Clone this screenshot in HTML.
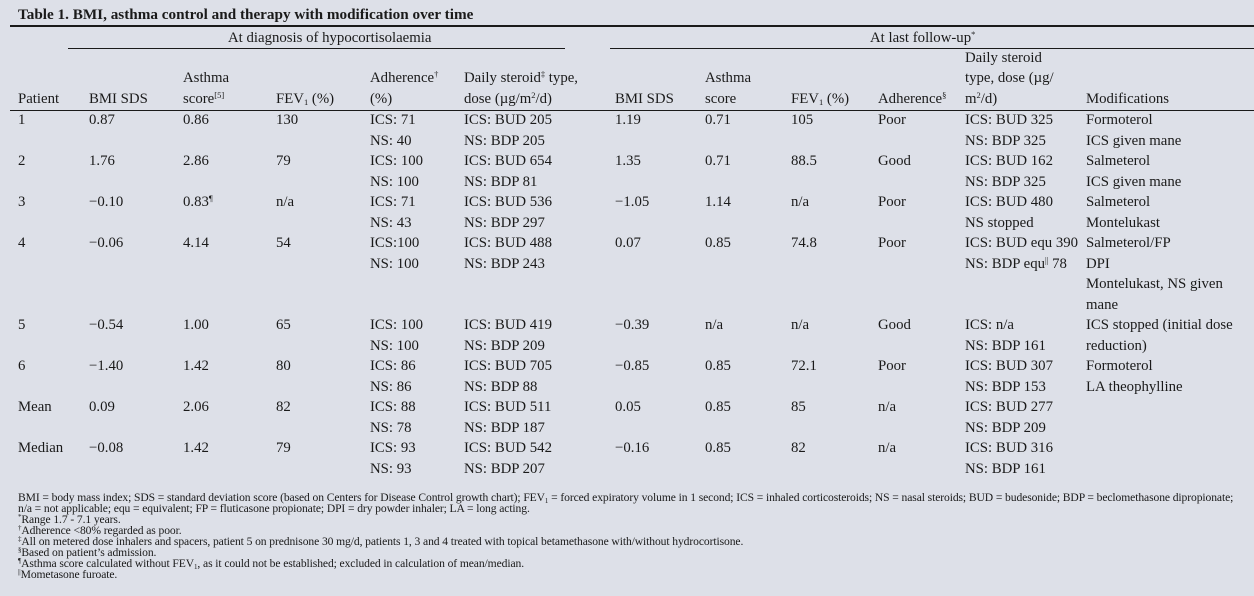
<!DOCTYPE html>
<html><head><meta charset="utf-8"><style>
body{margin:0;width:1254px;height:596px;background:#dde0e8;font-family:"Liberation Serif",serif;color:#1a1a1a;position:relative;overflow:hidden}
.t{position:absolute;font-size:14.8px;line-height:20px;white-space:nowrap}
.l{position:absolute;background:#1a1a1a}
sup{font-size:8.5px;vertical-align:5px;line-height:0}
sub{font-size:8.5px;vertical-align:-2px;line-height:0}
.f{position:absolute;left:18px;font-size:11.6px;line-height:11px;white-space:nowrap;letter-spacing:-0.1px}
.f sup{font-size:7px;vertical-align:4px}
.f sub{font-size:7px}
</style></head><body>
<div class="t" style="left:18px;top:5px;font-weight:bold;font-size:15.2px">Table 1. BMI, asthma control and therapy with modification over time</div>
<div class="l" style="left:10px;top:25px;width:1244px;height:2px"></div>
<div class="t" style="left:228px;top:28px">At diagnosis of hypocortisolaemia</div>
<div class="t" style="left:870px;top:28px">At last follow-up<sup>*</sup></div>
<div class="l" style="left:68px;top:48px;width:497px;height:1px"></div>
<div class="l" style="left:610px;top:48px;width:644px;height:1px"></div>
<div class="t" style="left:183px;top:68px">Asthma</div>
<div class="t" style="left:705px;top:68px">Asthma</div>
<div class="t" style="left:370px;top:68px">Adherence<sup>†</sup></div>
<div class="t" style="left:464px;top:68px">Daily steroid<sup>‡</sup> type,</div>
<div class="t" style="left:965px;top:48px">Daily steroid</div>
<div class="t" style="left:965px;top:68px">type, dose (µg/</div>
<div class="t" style="left:18px;top:89px">Patient</div>
<div class="t" style="left:89px;top:89px">BMI SDS</div>
<div class="t" style="left:183px;top:89px">score<sup>[5]</sup></div>
<div class="t" style="left:276px;top:89px">FEV<sub>1</sub> (%)</div>
<div class="t" style="left:370px;top:89px">(%)</div>
<div class="t" style="left:464px;top:89px">dose (µg/m<sup>2</sup>/d)</div>
<div class="t" style="left:615px;top:89px">BMI SDS</div>
<div class="t" style="left:705px;top:89px">score</div>
<div class="t" style="left:791px;top:89px">FEV<sub>1</sub> (%)</div>
<div class="t" style="left:878px;top:89px">Adherence<sup>§</sup></div>
<div class="t" style="left:965px;top:89px">m<sup>2</sup>/d)</div>
<div class="t" style="left:1086px;top:89px">Modifications</div>
<div class="l" style="left:10px;top:110px;width:1244px;height:1px"></div>

<div class="t" style="left:18px;top:110px;line-height:20.5px">1<br><br>2<br><br>3<br><br>4<br><br><br><br>5<br><br>6<br><br>Mean<br><br>Median</div>
<div class="t" style="left:89px;top:110px;line-height:20.5px">0.87<br><br>1.76<br><br>−0.10<br><br>−0.06<br><br><br><br>−0.54<br><br>−1.40<br><br>0.09<br><br>−0.08</div>
<div class="t" style="left:183px;top:110px;line-height:20.5px">0.86<br><br>2.86<br><br>0.83<sup>¶</sup><br><br>4.14<br><br><br><br>1.00<br><br>1.42<br><br>2.06<br><br>1.42</div>
<div class="t" style="left:276px;top:110px;line-height:20.5px">130<br><br>79<br><br>n/a<br><br>54<br><br><br><br>65<br><br>80<br><br>82<br><br>79</div>
<div class="t" style="left:370px;top:110px;line-height:20.5px">ICS: 71<br>NS: 40<br>ICS: 100<br>NS: 100<br>ICS: 71<br>NS: 43<br>ICS:100<br>NS: 100<br><br><br>ICS: 100<br>NS: 100<br>ICS: 86<br>NS: 86<br>ICS: 88<br>NS: 78<br>ICS: 93<br>NS: 93</div>
<div class="t" style="left:464px;top:110px;line-height:20.5px">ICS: BUD 205<br>NS: BDP 205<br>ICS: BUD 654<br>NS: BDP 81<br>ICS: BUD 536<br>NS: BDP 297<br>ICS: BUD 488<br>NS: BDP 243<br><br><br>ICS: BUD 419<br>NS: BDP 209<br>ICS: BUD 705<br>NS: BDP 88<br>ICS: BUD 511<br>NS: BDP 187<br>ICS: BUD 542<br>NS: BDP 207</div>
<div class="t" style="left:615px;top:110px;line-height:20.5px">1.19<br><br>1.35<br><br>−1.05<br><br>0.07<br><br><br><br>−0.39<br><br>−0.85<br><br>0.05<br><br>−0.16</div>
<div class="t" style="left:705px;top:110px;line-height:20.5px">0.71<br><br>0.71<br><br>1.14<br><br>0.85<br><br><br><br>n/a<br><br>0.85<br><br>0.85<br><br>0.85</div>
<div class="t" style="left:791px;top:110px;line-height:20.5px">105<br><br>88.5<br><br>n/a<br><br>74.8<br><br><br><br>n/a<br><br>72.1<br><br>85<br><br>82</div>
<div class="t" style="left:878px;top:110px;line-height:20.5px">Poor<br><br>Good<br><br>Poor<br><br>Poor<br><br><br><br>Good<br><br>Poor<br><br>n/a<br><br>n/a</div>
<div class="t" style="left:965px;top:110px;line-height:20.5px">ICS: BUD 325<br>NS: BDP 325<br>ICS: BUD 162<br>NS: BDP 325<br>ICS: BUD 480<br>NS stopped<br>ICS: BUD equ 390<br>NS: BDP equ<sup>||</sup> 78<br><br><br>ICS: n/a<br>NS: BDP 161<br>ICS: BUD 307<br>NS: BDP 153<br>ICS: BUD 277<br>NS: BDP 209<br>ICS: BUD 316<br>NS: BDP 161</div>
<div class="t" style="left:1086px;top:110px;line-height:20.5px">Formoterol<br>ICS given mane<br>Salmeterol<br>ICS given mane<br>Salmeterol<br>Montelukast<br>Salmeterol/FP<br>DPI<br>Montelukast, NS given<br>mane<br>ICS stopped (initial dose<br>reduction)<br>Formoterol<br>LA theophylline</div>

<div class="f" style="top:492px">BMI = body mass index; SDS = standard deviation score (based on Centers for Disease Control growth chart); FEV<sub>1</sub> = forced expiratory volume in 1 second; ICS = inhaled corticosteroids; NS = nasal steroids; BUD = budesonide; BDP = beclomethasone dipropionate;</div>
<div class="f" style="top:503px">n/a = not applicable; equ = equivalent; FP = fluticasone propionate; DPI = dry powder inhaler; LA = long acting.</div>
<div class="f" style="top:514px"><sup>*</sup>Range 1.7 - 7.1 years.</div>
<div class="f" style="top:525px"><sup>†</sup>Adherence &lt;80% regarded as poor.</div>
<div class="f" style="top:536px"><sup>‡</sup>All on metered dose inhalers and spacers, patient 5 on prednisone 30 mg/d, patients 1, 3 and 4 treated with topical betamethasone with/without hydrocortisone.</div>
<div class="f" style="top:547px"><sup>§</sup>Based on patient’s admission.</div>
<div class="f" style="top:558px"><sup>¶</sup>Asthma score calculated without FEV<sub>1</sub>, as it could not be established; excluded in calculation of mean/median.</div>
<div class="f" style="top:569px"><sup>||</sup>Mometasone furoate.</div>
</body></html>
